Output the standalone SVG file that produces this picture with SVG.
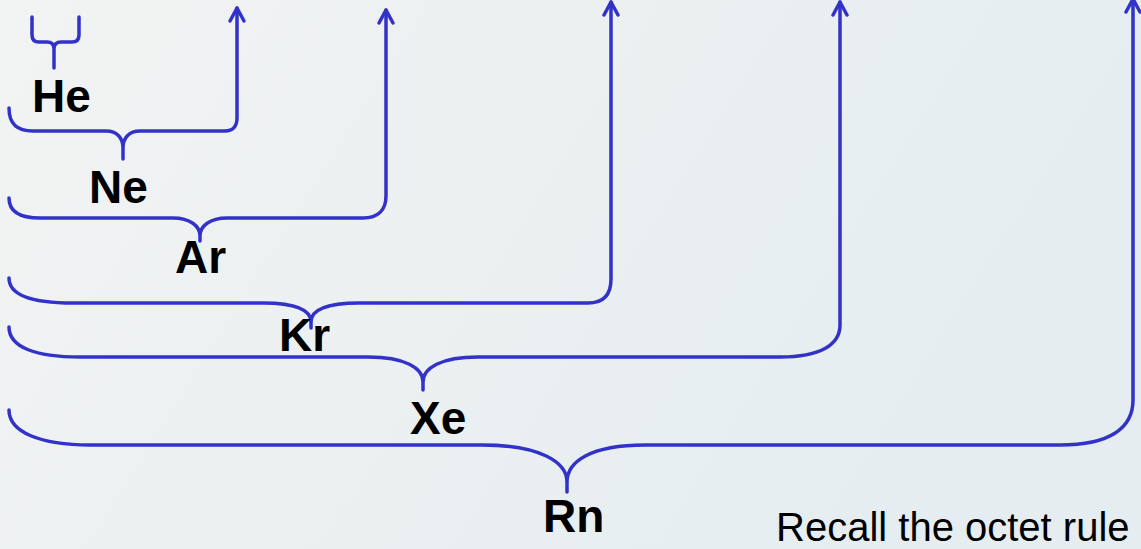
<svg xmlns="http://www.w3.org/2000/svg" width="1141" height="549" viewBox="0 0 1141 549">
<defs>
<linearGradient id="bg" x1="0" y1="0" x2="1" y2="0.3">
<stop offset="0" stop-color="#f2f3f3"/>
<stop offset="1" stop-color="#e5edf0"/>
</linearGradient>
<marker id="arr" markerUnits="userSpaceOnUse" markerWidth="20" markerHeight="20" refX="0" refY="0" viewBox="-16 -10 20 20" orient="auto" overflow="visible">
<path d="M-13,-7 L0,0 L-13,7" fill="none" stroke="#3232c8" stroke-width="3.5" stroke-linecap="round" stroke-linejoin="round"/>
</marker>
</defs>
<style>
.br{fill:none;stroke:#3232c8;stroke-width:3.5;stroke-linecap:round;stroke-linejoin:round}
.lbl{font-family:"Liberation Sans",Arial,sans-serif;font-weight:bold;font-size:46px;fill:#000}
.note{font-family:"Liberation Sans",Arial,sans-serif;font-size:40px;fill:#000}
</style>
<rect width="1141" height="549" fill="url(#bg)"/>
<g id="connectors">
<path id="brace-he" class="br" d="M32,17 V35 Q32,42 39,42 H47 Q54,42 54,49 V68 M54,49 Q54,42 61,42 H72 Q79,42 79,35 V17"/>
<path id="brace-ne" class="br" marker-end="url(#arr)" d="M9,108 C9,124 17,131 33,131 H106 C117,131 123,138 123,148 V159 M123,148 C123,138 129,131 140,131 H225 C233,131 237,126 237,118 V8"/>
<path id="brace-ar" class="br" marker-end="url(#arr)" d="M9,198 C9,212 20,218 40,218 H173 C190,218 200,226 200,236 V241 M200,236 C200,226 210,218 227,218 H363 C378,218 386,210 386,196 V10"/>
<path id="brace-kr" class="br" marker-end="url(#arr)" d="M9,278 C9,295 30,303 73,303 H263 C295,303 311,310 311,322 V328 M311,322 C311,310 327,303 359,303 H588 C603,303 611,295 611,279 V2"/>
<path id="brace-xe" class="br" marker-end="url(#arr)" d="M9,327 C9,347 35,357 80,357 H368 C405,357 423,368 423,382 V390 M423,382 C423,368 441,357 478,357 H780 C820,357 840,345 840,325 V2"/>
<path id="brace-rn" class="br" marker-end="url(#arr)" d="M9,410 C9,432 40,445 90,445 H482 C540,445 567,462 567,482 V492 M567,482 C567,462 590,445 645,445 H1060 C1110,445 1133,428 1133,400 V-1"/>
</g>
<g id="he"><text class="lbl" x="32" y="112">He</text></g>
<g id="ne"><text class="lbl" x="89" y="203">Ne</text></g>
<g id="ar"><text class="lbl" x="175" y="273">Ar</text></g>
<g id="kr"><text class="lbl" x="279" y="351">Kr</text></g>
<g id="xe"><text class="lbl" x="410" y="434">Xe</text></g>
<g id="rn"><text class="lbl" x="543" y="532">Rn</text></g>
<g id="note"><text class="note" x="776" y="541">Recall the octet rule</text></g>
</svg>
